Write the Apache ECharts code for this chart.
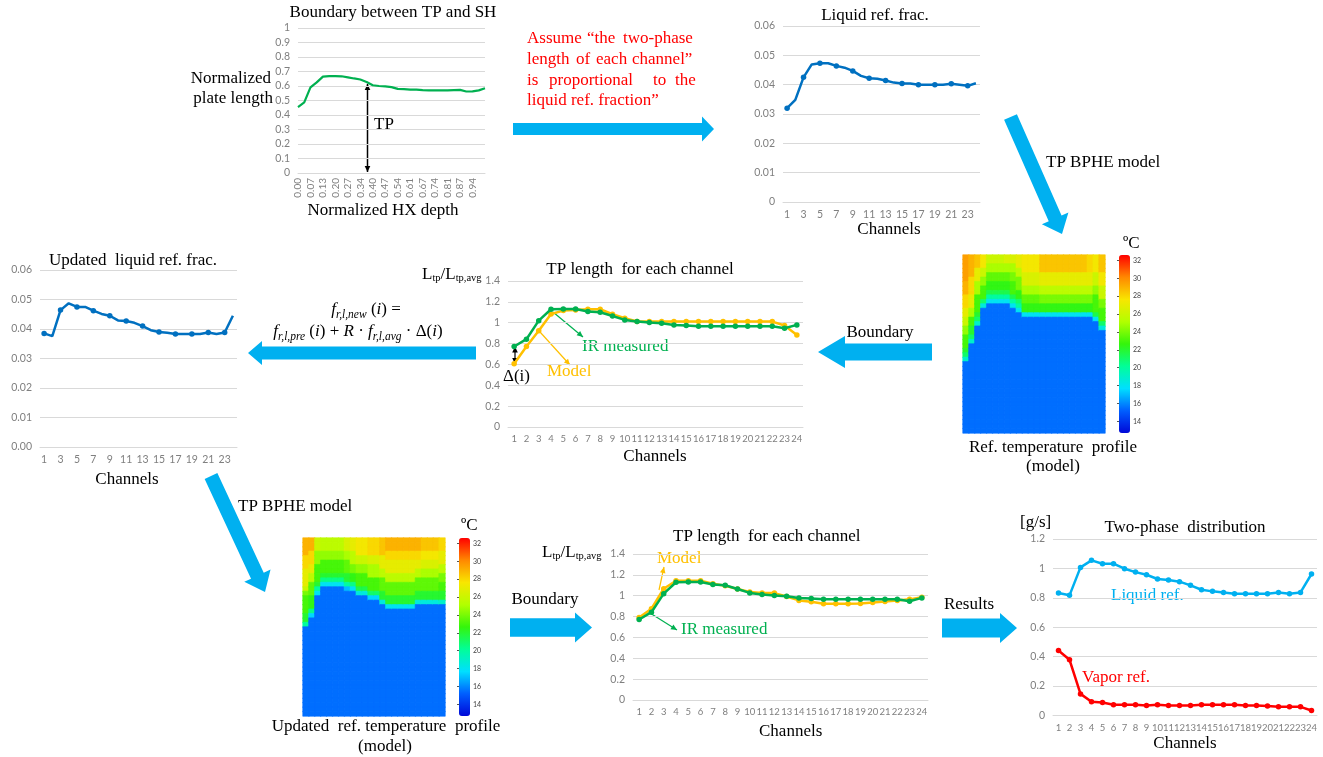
<!DOCTYPE html>
<html><head><meta charset="utf-8">
<script src="https://cdn.jsdelivr.net/npm/echarts@6/dist/echarts.min.js"></script>
<style>html,body{margin:0;padding:0;background:#fff}#c{width:1323px;height:757px}</style>
</head><body><div id="c"></div>
<script>
// ---------------- DATA ----------------
const channels = ['1','2','3','4','5','6','7','8','9','10','11','12','13','14','15','16','17','18','19','20','21','22','23','24'];
const depthLabels = ['0.00','0.03','0.07','0.10','0.13','0.17','0.20','0.24','0.27','0.30','0.34','0.37','0.40','0.44','0.47','0.50','0.54','0.57','0.61','0.64','0.67','0.71','0.74','0.77','0.81','0.84','0.87','0.91','0.94','0.97','1.00'];
const boundaryVals = [0.455,0.487,0.59,0.625,0.665,0.668,0.668,0.667,0.66,0.652,0.645,0.628,0.605,0.6,0.597,0.592,0.58,0.578,0.575,0.575,0.572,0.57,0.57,0.57,0.57,0.572,0.573,0.562,0.563,0.57,0.585];
const liquidFrac = [0.032,0.0348,0.0425,0.0469,0.0473,0.0473,0.0464,0.0458,0.0447,0.043,0.0422,0.042,0.0414,0.0407,0.0404,0.0404,0.040,0.040,0.040,0.040,0.0403,0.040,0.0396,0.0405];
const tpMeasured = [0.772,0.842,1.02,1.129,1.132,1.132,1.107,1.10,1.065,1.027,1.011,1.001,0.995,0.979,0.973,0.966,0.966,0.966,0.966,0.966,0.966,0.966,0.947,0.979];
const tpModel1 = [0.606,0.772,0.922,1.084,1.116,1.122,1.129,1.129,1.081,1.043,1.011,1.011,1.011,1.011,1.011,1.011,1.011,1.011,1.011,1.011,1.011,1.011,0.973,0.883];
const updatedFrac = [0.0385,0.0376,0.0464,0.0487,0.0475,0.0475,0.0462,0.0451,0.0445,0.0429,0.0427,0.0421,0.041,0.0396,0.039,0.0387,0.0383,0.0383,0.0383,0.0383,0.0388,0.0383,0.0388,0.0445];
const tpModel2 = [0.791,0.875,1.067,1.144,1.144,1.144,1.115,1.096,1.064,1.035,1.025,1.025,0.993,0.955,0.942,0.923,0.923,0.922,0.925,0.935,0.945,0.955,0.965,0.985];
const liquidFlow = [0.833,0.817,1.007,1.055,1.032,1.032,0.998,0.975,0.957,0.928,0.921,0.91,0.885,0.855,0.844,0.837,0.828,0.828,0.828,0.828,0.837,0.828,0.837,0.962];
const vaporFlow = [0.442,0.379,0.147,0.093,0.088,0.073,0.073,0.073,0.068,0.073,0.068,0.068,0.068,0.073,0.073,0.073,0.073,0.068,0.068,0.064,0.059,0.059,0.059,0.034];
const colorbarTicks = [14,16,18,20,22,24,26,28,30,32];
// temperature profiles, per channel column, top to bottom: [temperature degC, number of rows]
const heat1Cols = [
 [[29.5,6],[29,3],[28,3],[27,2],[26,2],[24.5,2],[23,3],[22,1],[21,1],[19,1],[15.5,16]],
 [[29,5],[28,4],[27,3],[25,2],[23,2],[22,2],[21,1],[19,1],[15.5,20]],
 [[28.5,3],[27,3],[25,3],[23,4],[22,1],[21,1],[19,1],[15.5,24]],
 [[27.5,3],[26,2],[24.5,2],[23,3],[21,1],[18.5,1],[15.5,28]],
 [[26,2],[25,2],[23.5,2],[22.5,2],[21.5,1],[20,1],[18,1],[15.5,29]],
 [[26,2],[25,2],[23.5,2],[22.5,2],[21.5,1],[20,1],[18,1],[15.5,29]],
 [[26,2],[25,2],[23.5,2],[22.5,2],[21.5,1],[20,1],[18,1],[15.5,29]],
 [[26.5,2],[25,2],[23.5,2],[22.5,2],[21.5,1],[20,1],[18,1],[15.5,29]],
 [[26.5,2],[25,2],[24,2],[23,3],[21.5,1],[20,1],[18,1],[15.5,28]],
 [[27,3],[25.5,2],[24,3],[22.5,2],[21,1],[20,1],[18,1],[15.5,27]],
 [[27.5,4],[26.5,3],[25,2],[23.5,2],[22.5,2],[18,1],[15.5,26]],
 [[27.5,4],[26.5,3],[25,2],[23.5,2],[22.5,2],[18,1],[15.5,26]],
 [[27.5,4],[26.5,3],[25,2],[23.5,2],[22.5,2],[18,1],[15.5,26]],
 [[28.5,4],[27,3],[25.5,2],[24,2],[22.5,2],[18,1],[15.5,26]],
 [[28.5,4],[27,3],[25.5,2],[24,2],[22.5,2],[18,1],[15.5,26]],
 [[28.5,4],[27,3],[25.5,2],[24,2],[22.5,2],[18,1],[15.5,26]],
 [[28.5,4],[27,3],[25.5,2],[24,2],[22.5,2],[18,1],[15.5,26]],
 [[28.5,4],[27,3],[25.5,2],[24,2],[22.5,2],[18,1],[15.5,26]],
 [[28.5,4],[27,3],[25.5,2],[24,2],[22.5,2],[18,1],[15.5,26]],
 [[28.5,4],[27,3],[25.5,2],[24,2],[22.5,2],[18,1],[15.5,26]],
 [[28.5,4],[27,3],[25.5,2],[24,2],[22.5,2],[18,1],[15.5,26]],
 [[28,4],[27,3],[25.5,2],[24,2],[22.5,2],[18,1],[15.5,26]],
 [[27.5,4],[26,3],[24.5,2],[23,4],[21.5,1],[18,1],[15.5,25]],
 [[28.5,4],[27.5,3],[26,3],[24,2],[23,3],[21,1],[18.5,1],[15.5,23]]
];
const heat2Cols = [
 [[29,4],[28,3],[27,4],[26,1],[24,1],[23,4],[22,2],[20,1],[15.5,20]],
 [[29,3],[28,3],[27,2],[25.5,2],[23.5,3],[22.5,3],[20.5,1],[17.5,1],[15.5,22]],
 [[26,3],[24.5,3],[23,4],[22,1],[20,1],[18,1],[15.5,27]],
 [[25.5,3],[24.5,2],[23,3],[22,1],[20.5,1],[18,1],[15.5,29]],
 [[25.5,3],[24.5,2],[23,3],[22,1],[20.5,1],[18,1],[15.5,29]],
 [[25.5,3],[24.5,2],[23,3],[22,1],[20.5,1],[18,1],[15.5,29]],
 [[25.5,3],[24.5,2],[23,3],[22,1],[20.5,1],[18,1],[15.5,29]],
 [[26.5,3],[25,2],[23.5,3],[22,2],[20,1],[17,1],[15.5,28]],
 [[27,3],[25.5,3],[24,2],[22.5,2],[20.5,1],[18,1],[15.5,28]],
 [[27.5,4],[26,2],[24.5,2],[23,3],[21.5,1],[18.5,1],[15.5,27]],
 [[27.5,4],[26,2],[24.5,2],[23,3],[21.5,1],[18.5,1],[15.5,27]],
 [[28,4],[26.5,2],[25,3],[23,3],[21,1],[17.5,1],[15.5,26]],
 [[28,4],[26.5,2],[25,3],[23,3],[21,1],[17.5,1],[15.5,26]],
 [[28.5,4],[27,3],[25.5,2],[23.5,3],[22,2],[18.5,1],[15.5,25]],
 [[29,3],[28,2],[27,3],[25.5,2],[23.5,3],[22,2],[18,1],[15.5,24]],
 [[29,3],[28,2],[27,3],[25.5,2],[23.5,3],[22,2],[18,1],[15.5,24]],
 [[29,3],[28,2],[27,3],[25.5,2],[23.5,3],[22,2],[18,1],[15.5,24]],
 [[29,3],[28,2],[27,3],[25.5,2],[23.5,3],[22,2],[18,1],[15.5,24]],
 [[29,3],[28,2],[27,3],[25.5,2],[23.5,3],[22,2],[18,1],[15.5,24]],
 [[29,3],[28,2],[27,2],[25.5,2],[23.5,3],[22,2],[18.5,1],[15.5,25]],
 [[28.5,3],[27.5,2],[26.5,2],[25,2],[23.5,3],[22,2],[18.5,1],[15.5,25]],
 [[28.5,3],[27.5,2],[26.5,2],[25,2],[23.5,3],[22,2],[18.5,1],[15.5,25]],
 [[28.5,3],[27.5,2],[26.5,2],[25,2],[23.5,3],[22,2],[18.5,1],[15.5,25]],
 [[28,3],[27,3],[25.5,2],[24,2],[23,2],[22,2],[19,1],[15.5,25]]
];

// ---------------- STYLE ----------------
const SERIF = '"Liberation Serif","Times New Roman",serif';
const SANS = 'Lato,"Liberation Sans",sans-serif';
const LBL = '#7f7f7f';
const GRIDC = '#d9d9d9';
const ARROW = '#00b0f0';
const GREEN = '#00b050', ORANGE = '#ffc000', BLUE = '#0070c0', LBLUE = '#00b0f0', RED = '#ff0000';
const JET = ['#0008d8','#005eff','#00dfff','#01fe98','#34f50b','#b2ff00','#f8e600','#ff8800','#ff0000'];
const TMIN = 12.7, TMAX = 32.6;

function hex2rgb(h){ return [parseInt(h.slice(1,3),16), parseInt(h.slice(3,5),16), parseInt(h.slice(5,7),16)]; }
const JETRGB = JET.map(hex2rgb);
function tempColor(t){
  let f = (t - TMIN) / (TMAX - TMIN) * (JET.length - 1);
  f = Math.max(0, Math.min(JET.length - 1, f));
  const i = Math.min(JET.length - 2, Math.floor(f)), w = f - i;
  const a = JETRGB[i], b = JETRGB[i + 1];
  return 'rgb(' + a.map((v, k) => Math.round(v + (b[k] - v) * w)).join(',') + ')';
}
function expand(cols){
  const out = [];
  cols.forEach((runs, c) => { let r = 0; runs.forEach(([t, n]) => { for (let k = 0; k < n; k++) {
    const col = tempColor(t);
    out.push({value:[c, r, t], itemStyle:{color:col, borderColor:col, borderWidth:0.6}}); r++; } }); });
  return out;
}
const nRows = heat1Cols[0].reduce((s, x) => s + x[1], 0);
const rowCats = Array.from({length: nRows}, (_, i) => String(i));

function chAxis(g, all, fs){
  return {type:'category', gridIndex:g, data:channels, boundaryGap:true,
    axisLine:{show:true, lineStyle:{color:GRIDC}}, axisTick:{show:false},
    axisLabel:{interval: all ? 0 : 1, fontSize:fs, color:LBL, fontFamily:SANS, margin:7}};
}
function valAxis(g, max, interval, fmt){
  return {type:'value', gridIndex:g, min:0, max:max, interval:interval,
    axisLine:{show:false}, axisTick:{show:false},
    splitLine:{lineStyle:{color:GRIDC, width:1}},
    axisLabel:{color:LBL, fontSize:10.5, fontFamily:SANS, margin:8, formatter:fmt}};
}
function lineSeries(xi, data, color, z){
  return {type:'line', xAxisIndex:xi, yAxisIndex:xi, data:data, symbol:'circle', symbolSize:5.5,
    lineStyle:{width:2.5, color:color}, itemStyle:{color:color}, z:z||2, animation:false};
}

// ---------------- GRAPHIC HELPERS ----------------
function blockArrow(x1,y1,x2,y2,bw,hw,hl,color){
  const dx=x2-x1, dy=y2-y1, L=Math.hypot(dx,dy), ux=dx/L, uy=dy/L, nx=-uy, ny=ux;
  const bx=x2-ux*hl, by=y2-uy*hl;
  return {type:'polygon', silent:true, shape:{points:[
    [x1+nx*bw,y1+ny*bw],[bx+nx*bw,by+ny*bw],[bx+nx*hw,by+ny*hw],[x2,y2],
    [bx-nx*hw,by-ny*hw],[bx-nx*bw,by-ny*bw],[x1-nx*bw,y1-ny*bw]]}, style:{fill:color||ARROW}};
}
function head(x1,y1,x2,y2,color,len,w){
  const dx=x2-x1, dy=y2-y1, L=Math.hypot(dx,dy), ux=dx/L, uy=dy/L, nx=-uy, ny=ux;
  const bx=x2-ux*len, by=y2-uy*len;
  return {type:'polygon', silent:true, shape:{points:[[x2,y2],[bx+nx*w,by+ny*w],[bx-nx*w,by-ny*w]]}, style:{fill:color}};
}
function thinArrow(x1,y1,x2,y2,color,both,lw){
  const g = [{type:'line', silent:true, shape:{x1:x1,y1:y1,x2:x2,y2:y2}, style:{stroke:color, lineWidth:lw||1}},
    head(x1,y1,x2,y2,color,6,2.8)];
  if (both) g.push(head(x2,y2,x1,y1,color,6,2.8));
  return g;
}
function txt(x,y,text,opt){
  opt = opt || {};
  return {type:'text', silent:true, style:{x:x, y:y, text:text, fill:opt.color||'#000',
    font:(opt.style||'normal')+' '+(opt.size||17)+'px '+(opt.family||SERIF),
    align:opt.align||'left', verticalAlign:'middle', rich:opt.rich}};
}
const subRich = {
  n:{fontFamily:SERIF, fontSize:17, lineHeight:22, verticalAlign:'middle'},
  s:{fontFamily:SERIF, fontSize:10.5, lineHeight:10, verticalAlign:'bottom'}
};
const mathRich = {
  n:{fontFamily:SERIF, fontSize:17, lineHeight:22, verticalAlign:'middle'},
  f:{fontFamily:SERIF, fontStyle:'italic', fontSize:17, lineHeight:22, verticalAlign:'middle'},
  s:{fontFamily:SERIF, fontStyle:'italic', fontSize:11.5, lineHeight:11, verticalAlign:'bottom'}
};

const graphics = [].concat(
  [txt(393,13,'Boundary between TP and SH',{align:'center'}),
   txt(271,79,'Normalized',{align:'right'}),
   txt(273,99,'plate length',{align:'right'}),
   txt(374,125,'TP'),
   txt(383,211,'Normalized HX depth',{align:'center'})],
  thinArrow(367.5,172,367.5,84,'#000',true,1.5),
  [txt(527,39,'Assume',{color:RED}), txt(587,39,'\u201cthe',{color:RED}), txt(623,39,'two-phase',{color:RED}),
   txt(527,59.5,'length',{color:RED}), txt(576,59.5,'of',{color:RED}), txt(596,59.5,'each',{color:RED}), txt(632,59.5,'channel\u201d',{color:RED}),
   txt(527,80.5,'is',{color:RED}), txt(549,80.5,'proportional',{color:RED}), txt(653,80.5,'to',{color:RED}), txt(675,80.5,'the',{color:RED}),
   txt(527,101,'liquid ref. fraction\u201d',{color:RED})],
  [blockArrow(513,129,714,129,6,12.5,12)],
  [txt(875,16,'Liquid ref. frac.',{align:'center'}), txt(889,230,'Channels',{align:'center'})],
  [blockArrow(1010.5,117,1062,234,7,14.5,17), txt(1046,163,'TP BPHE model')],
  [txt(1123,244,'\u00baC'), txt(1053,448,'Ref. temperature  profile',{align:'center'}), txt(1053,467,'(model)',{align:'center'})],
  [blockArrow(932,352,818,352,8.5,16,27), txt(880,333,'Boundary',{align:'center'})],
  [txt(422,275,'L{s|tp}/L{s|tp,avg}',{rich:subRich}),
   txt(640,270,'TP length  for each channel',{align:'center'}),
   txt(655,457,'Channels',{align:'center'}),
   txt(582,347,'IR measured',{color:GREEN}),
   txt(547,372,'Model',{color:ORANGE}),
   txt(503,377,'\u0394(i)')],
  thinArrow(553,312,583,337,GREEN,false,1.2),
  thinArrow(540,332,570,365,ORANGE,false,1.2),
  thinArrow(515,346.5,515,364,'#000',true,1.2),
  [txt(366,310,'{f|f}{s|r,l,new}{n| (}{f|i}{n|) =}',{align:'center',rich:mathRich}),
   txt(358,332,'{f|f}{s|r,l,pre}{n| (}{f|i}{n|) + }{f|R}{n| \u00b7 }{f|f}{s|r,l,avg}{n| \u00b7 \u0394(}{f|i}{n|)}',{align:'center',rich:mathRich}),
   blockArrow(476,353,248,353,6.5,12,14)],
  [txt(133,261,'Updated  liquid ref. frac.',{align:'center'}), txt(127,480,'Channels',{align:'center'})],
  [blockArrow(211,476,265,592,7,14.5,18), txt(238,507,'TP BPHE model')],
  [txt(461,526,'\u00baC'), txt(386,727,'Updated  ref. temperature  profile',{align:'center'}), txt(385,747,'(model)',{align:'center'})],
  [blockArrow(510,627.5,592,627.5,9.2,15,17), txt(545,600,'Boundary',{align:'center'})],
  [txt(542,553,'L{s|tp}/L{s|tp,avg}',{rich:subRich}),
   txt(673,537,'TP length  for each channel'),
   txt(759,732,'Channels'),
   txt(657,559,'Model',{color:ORANGE}),
   txt(681,630,'IR measured',{color:GREEN})],
  thinArrow(659,590,664,567,ORANGE,false,1.2),
  thinArrow(650,613,677,630,GREEN,false,1.2),
  [blockArrow(942,628,1017,628,9.5,15,17), txt(969,605,'Results',{align:'center'})],
  [txt(1020,523,'[g/s]'), txt(1185,528,'Two-phase  distribution',{align:'center'}), txt(1185,744,'Channels',{align:'center'}),
   txt(1111,596,'Liquid ref.',{color:LBLUE}), txt(1082,678,'Vapor ref.',{color:RED})]
);

const cbarAxis = (g) => ({type:'value', gridIndex:g, min:TMIN, max:TMAX, position:'right',
  axisLine:{show:false}, splitLine:{show:false},
  axisTick:{show:true, inside:true, length:2, lineStyle:{color:'#555'}, customValues:colorbarTicks},
  axisLabel:{customValues:colorbarTicks, fontSize:7, color:'#444', fontFamily:SANS, margin:3}});

const option = {
  animation:false,
  backgroundColor:'#fff',
  grid:[
    {left:298, top:28, width:187, height:145},
    {left:783, top:26, width:197, height:176},
    {left:508, top:281, width:295, height:146},
    {left:40, top:270, width:197, height:177},
    {left:633, top:554, width:295, height:146},
    {left:1053, top:539, width:264, height:176.5},
    {left:963, top:255, width:142, height:178},
    {left:1119, top:255, width:11, height:178},
    {left:303, top:538, width:142, height:178},
    {left:459, top:538, width:11, height:178}
  ],
  xAxis:[
    {type:'category', gridIndex:0, data:depthLabels, boundaryGap:false,
     axisLine:{show:true, lineStyle:{color:GRIDC}}, axisTick:{show:false},
     axisLabel:{rotate:90, interval:(i)=> i%2===0 && i<=28, fontSize:10, color:LBL, fontFamily:SANS, margin:5}},
    chAxis(1,false,10.5),
    chAxis(2,true,9.5),
    chAxis(3,false,10.5),
    chAxis(4,true,9.5),
    chAxis(5,true,9.5),
    {type:'category', gridIndex:6, data:channels, show:false},
    {type:'value', gridIndex:7, show:false, min:0, max:1},
    {type:'category', gridIndex:8, data:channels, show:false},
    {type:'value', gridIndex:9, show:false, min:0, max:1}
  ],
  yAxis:[
    valAxis(0,1,0.1),
    valAxis(1,0.06,0.01),
    valAxis(2,1.4,0.2),
    valAxis(3,0.06,0.01,(v)=>v.toFixed(2)),
    valAxis(4,1.4,0.2),
    valAxis(5,1.2,0.2),
    {type:'category', gridIndex:6, data:rowCats, inverse:true, show:false},
    cbarAxis(7),
    {type:'category', gridIndex:8, data:rowCats, inverse:true, show:false},
    cbarAxis(9)
  ],
  visualMap:[
    {type:'continuous', seriesIndex:11, min:TMIN, max:TMAX, left:1119, top:255, itemWidth:11, itemHeight:178,
     padding:0, calculable:false, hoverLink:false, text:null, inRange:{color:JET}},
    {type:'continuous', seriesIndex:12, min:TMIN, max:TMAX, left:459, top:538, itemWidth:11, itemHeight:178,
     padding:0, calculable:false, hoverLink:false, text:null, inRange:{color:JET}}
  ],
  series:[
    {type:'line', xAxisIndex:0, yAxisIndex:0, data:boundaryVals, symbol:'none', lineStyle:{width:2.2, color:GREEN}, animation:false},
    lineSeries(1, liquidFrac, BLUE),
    lineSeries(2, tpModel1, ORANGE, 2),
    lineSeries(2, tpMeasured, GREEN, 3),
    lineSeries(3, updatedFrac, BLUE),
    lineSeries(4, tpModel2, ORANGE, 2),
    lineSeries(4, tpMeasured, GREEN, 3),
    lineSeries(5, liquidFlow, LBLUE),
    lineSeries(5, vaporFlow, RED),
    {type:'heatmap', xAxisIndex:6, yAxisIndex:6, data:expand(heat1Cols), progressive:0, animation:false},
    {type:'heatmap', xAxisIndex:8, yAxisIndex:8, data:expand(heat2Cols), progressive:0, animation:false},
    {type:'line', xAxisIndex:7, yAxisIndex:7, data:[]},
    {type:'line', xAxisIndex:9, yAxisIndex:9, data:[]}
  ],
  graphic: graphics
};
const chart = echarts.init(document.getElementById('c'), null, {renderer:'canvas'});
chart.setOption(option);
</script>
</body></html>
